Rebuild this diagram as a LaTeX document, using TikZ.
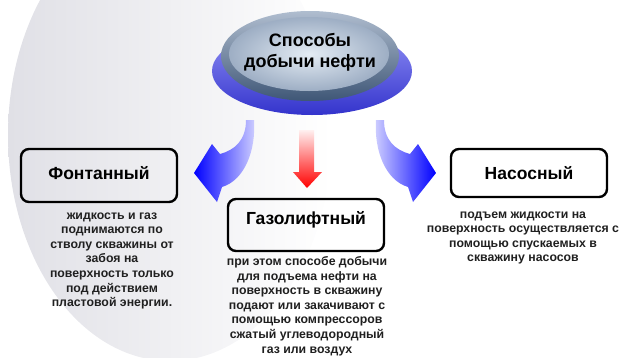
\documentclass[tikz,border=0pt]{standalone}
\usepackage{fontspec}
\setmainfont{Liberation Sans}
\usepackage{tikz}
\usetikzlibrary{positioning,shapes.geometric,calc}
\definecolor{bgray}{RGB}{224,224,230}
\definecolor{slate}{RGB}{78,108,148}
\definecolor{pale}{RGB}{228,236,244}
\definecolor{disc}{RGB}{60,60,240}
\definecolor{txt}{RGB}{32,32,32}

\begin{document}
\begin{tikzpicture}[x=1pt, y=-1pt,
    box/.style={draw, line width=2.4pt, rounded corners=8pt, minimum width=156pt, inner sep=0pt, text height=13pt, font=\fontsize{17.5}{20}\selectfont\bfseries},
    desc/.style={align=center, inner sep=0pt, text=txt, font=\fontsize{12.3}{14.6}\selectfont\bfseries},
    oval/.style={ellipse, inner sep=0pt, outer sep=0pt},
  ]
  \useasboundingbox (0,0) rectangle (630,357);
  \begin{scope}
    \clip (0,0) rectangle (630,357);
    \shade[left color=bgray, right color=white] (170,135) ellipse [x radius=162, y radius=226];
  \end{scope}

  \node[oval, minimum width=200, minimum height=88, top color=disc!55!white, bottom color=disc!85!black] (dsc) at (312,71) {};
  \node[oval, minimum width=178, minimum height=90, top color=slate!45!white, bottom color=slate!80!black] (rim) at (310,56) {};
  \node[oval, minimum width=160, minimum height=74, inner color=pale, outer color=slate!55!white] (face) at (309,54) {};
  \node[align=center, font=\fontsize{18}{21}\selectfont\bfseries] (sp) at (310,52) {Способы\\добычи нефти};

  \node[box, minimum height=53, text depth=5pt] (fon) at (99,175.5) {Фонтанный};
  \node[box, minimum height=52, text depth=14pt] (gaz) at (306,225) {Газолифтный};
  \node[box, minimum height=48, text depth=0pt] (nas) at (529,173) {Насосный};

  \node[desc, below=9pt of fon, xshift=13pt] (fontxt) {жидкость и газ\\поднимаются по\\стволу скважины от\\забоя на\\поверхность только\\под действием\\пластовой энергии.};
  \node[desc, below=4pt of gaz, xshift=1pt] (gaztxt) {при этом способе добычи\\для подъема нефти на\\поверхность в скважину\\подают или закачивают с\\помощью компрессоров\\сжатый углеводородный\\газ или воздух};
  \node[desc, below=13pt of nas, xshift=-6pt] (nastxt) {подъем жидкости на\\поверхность осуществляется с\\помощью спускаемых в\\скважину насосов};

  \coordinate (lt) at ($(dsc.south)+(-62,5)$);
  \coordinate (rt) at ($(dsc.south)+(68,5)$);
  \coordinate (mt) at ($(dsc.south)+(-5,15)$);
  \begin{scope}[shift={(lt)}]
    \shade[left color=blue, right color=blue!18!white] (-4,0) .. controls (-4,20) and (-15,30) .. (-30,34) -- (-38,24) -- (-56,53) -- (-33,82) -- (-28,67) .. controls (-5,60) and (6,30) .. (4,0) -- cycle;
  \end{scope}
  \begin{scope}[shift={(rt)}, xscale=-1]
    \shade[left color=blue!18!white, right color=blue] (-4,0) .. controls (-4,20) and (-15,30) .. (-30,34) -- (-38,24) -- (-56,53) -- (-33,82) -- (-28,67) .. controls (-5,60) and (6,30) .. (4,0) -- cycle;
  \end{scope}
  \begin{scope}[shift={(mt)}]
    \shade[top color=red!6!white, bottom color=red] (-8,0) -- (7,0) -- (7,42) -- (15,42) -- (0,58) -- (-14,42) -- (-8,42) -- cycle;
  \end{scope}
\end{tikzpicture}
\end{document}
